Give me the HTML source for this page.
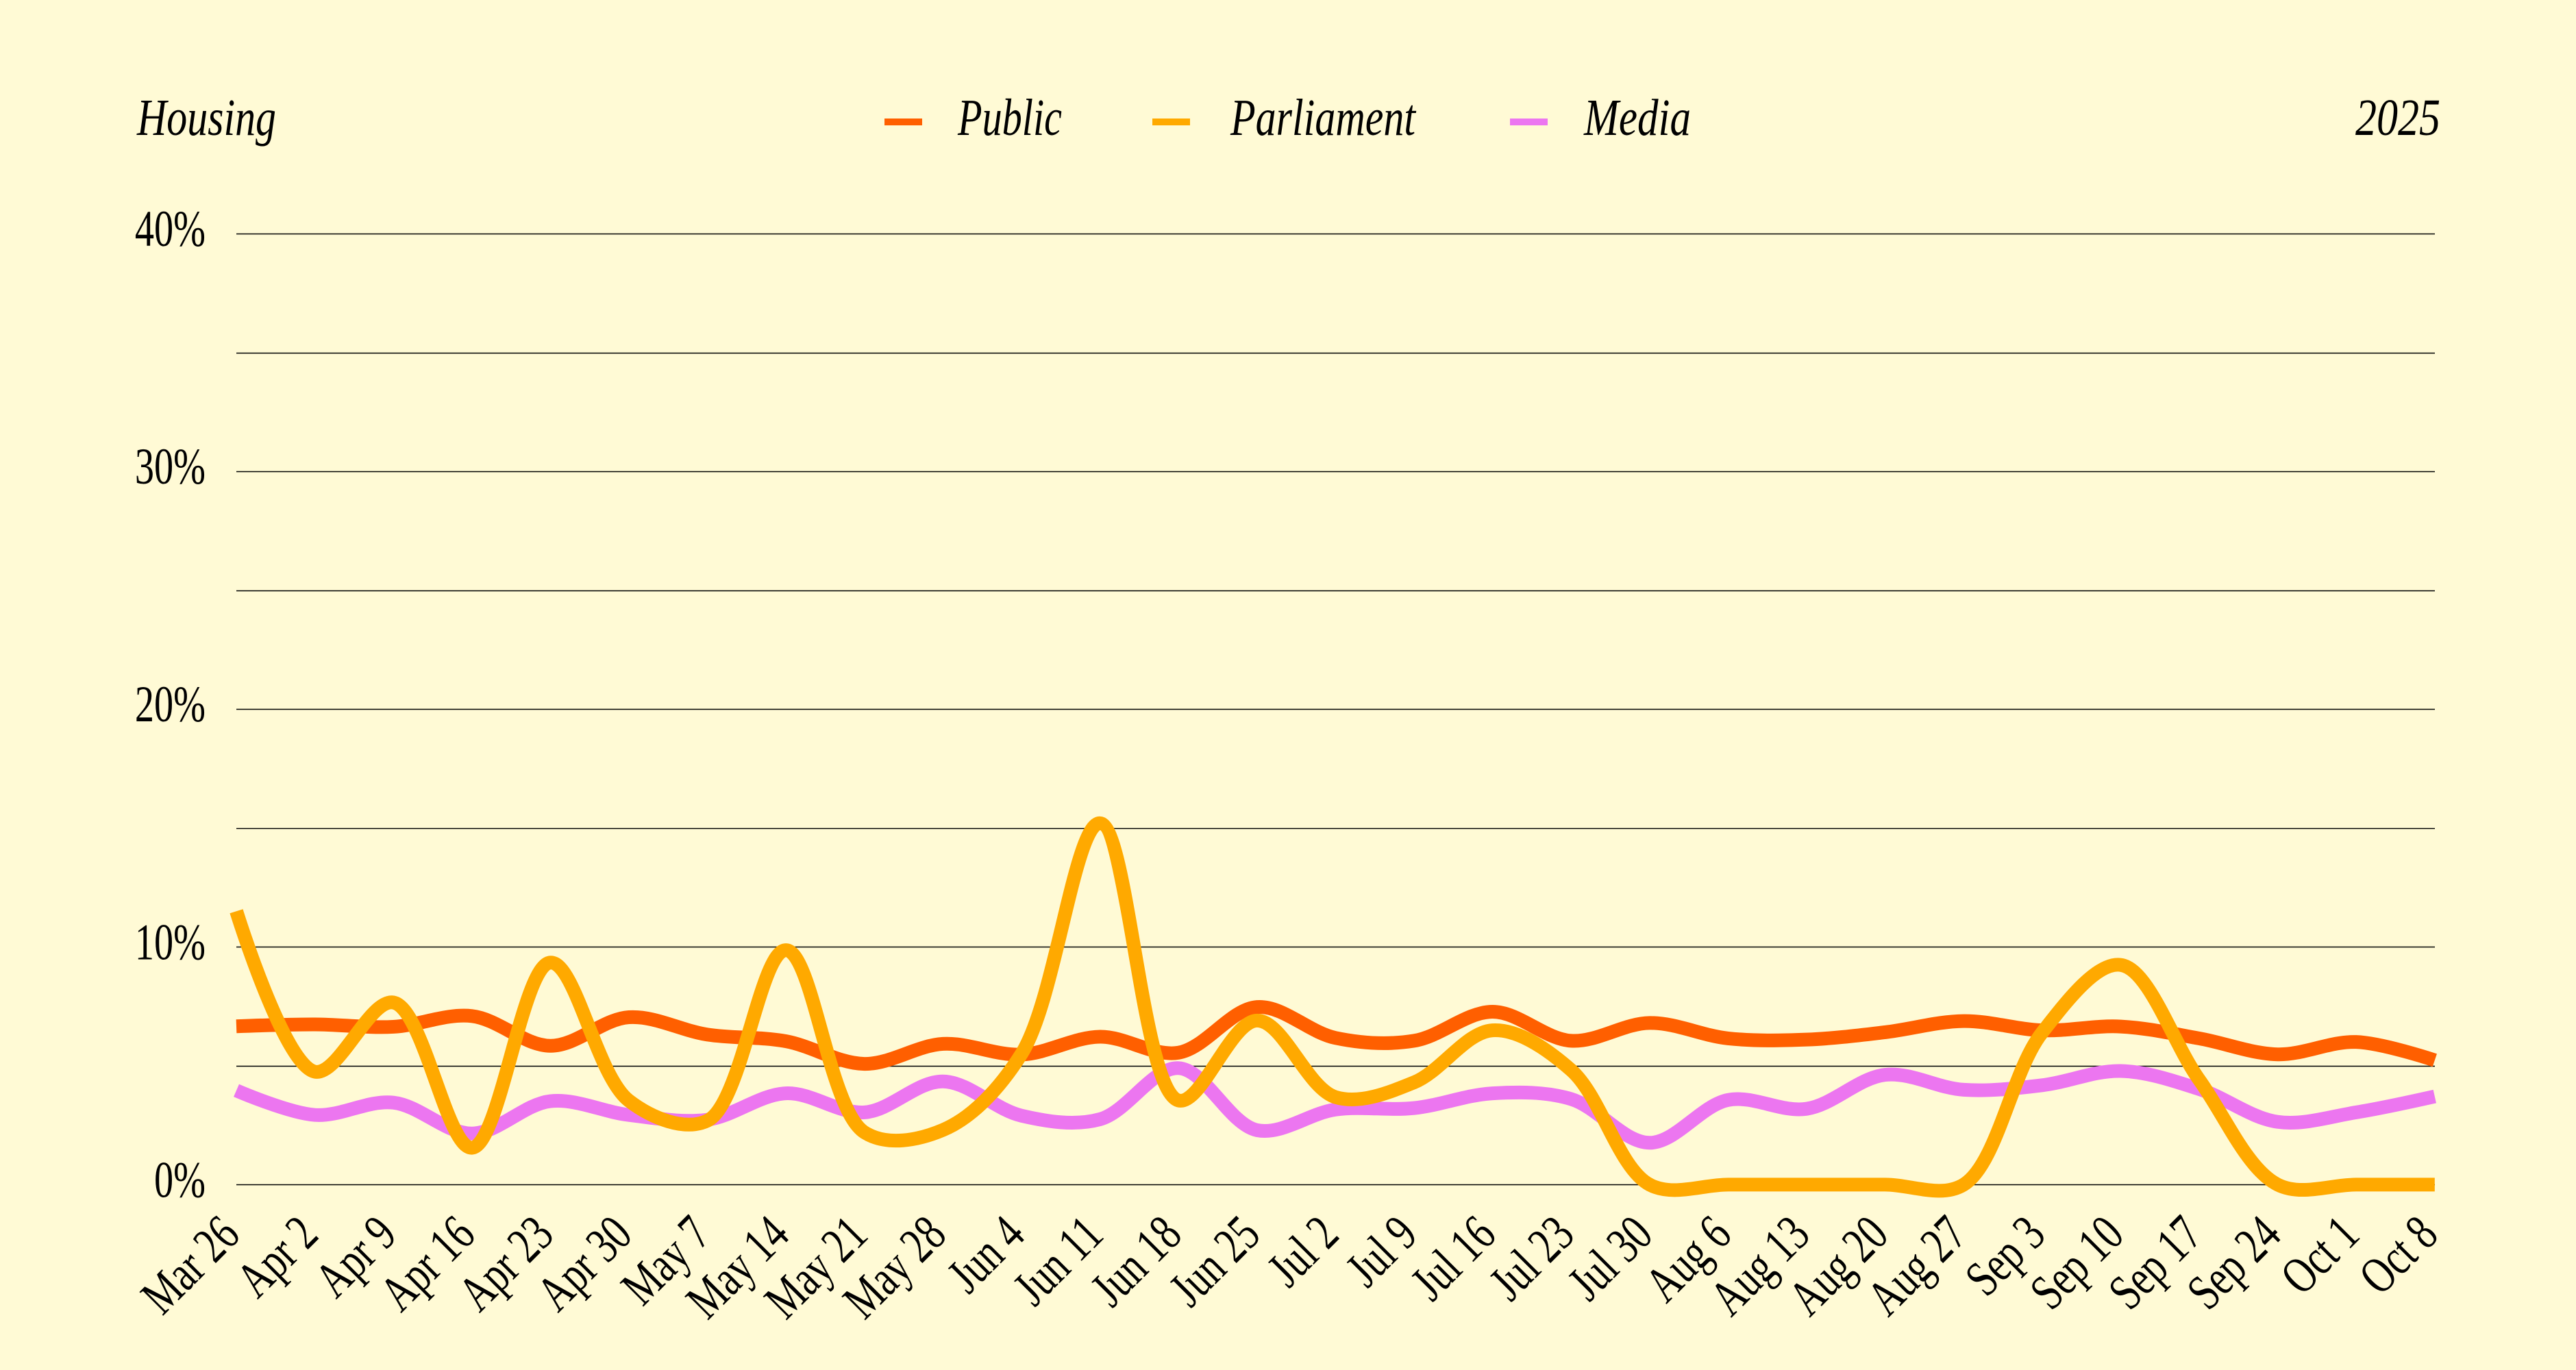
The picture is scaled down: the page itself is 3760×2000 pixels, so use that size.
<!DOCTYPE html>
<html>
<head>
<meta charset="utf-8">
<style>
  html,body{margin:0;padding:0;background:#FFFAD5;}
  svg{display:block;}
  text{font-family:"Liberation Serif",serif;fill:#000;}
  .it{font-style:italic;}
</style>
</head>
<body>
<svg id="chart" width="3760" height="2000" viewBox="0 0 3760 2000" xmlns="http://www.w3.org/2000/svg">
  <rect x="0" y="0" width="3760" height="2000" fill="#FFFAD5"/>
  <g id="grid" stroke="#000" stroke-width="1.4"></g>
  <g id="ylabels" font-size="75"></g>
  <g id="xlabels" font-size="75"></g>

  <!-- header -->
  <text class="it" x="200" y="197" font-size="76" textLength="203" lengthAdjust="spacingAndGlyphs">Housing</text>
  <rect x="1291" y="173" width="55" height="10" fill="#FF5F00"/>
  <text class="it" x="1398" y="197" font-size="76" textLength="152" lengthAdjust="spacingAndGlyphs">Public</text>
  <rect x="1682" y="173" width="55" height="10" fill="#FFA900"/>
  <text class="it" x="1796" y="197" font-size="76" textLength="270" lengthAdjust="spacingAndGlyphs">Parliament</text>
  <rect x="2204" y="173" width="55" height="10" fill="#EC76F0"/>
  <text class="it" x="2312" y="197" font-size="76" textLength="156" lengthAdjust="spacingAndGlyphs">Media</text>
  <text class="it" x="3438" y="197" font-size="76" textLength="124" lengthAdjust="spacingAndGlyphs">2025</text>

  <g id="series" fill="none" stroke-width="20" stroke-linecap="butt" stroke-linejoin="round"></g>
</svg>
<script>
(function(){
  var NS="http://www.w3.org/2000/svg";
  var X0=345, STEP=(3553.8-345)/28;
  function Y(v){return 1729.4-34.71*v;}
  var grid=document.getElementById('grid');
  for(var v=0;v<=40;v+=5){
    var l=document.createElementNS(NS,'line');
    var y=Math.round(Y(v))+0.5;
    l.setAttribute('x1',345);l.setAttribute('x2',3554);
    l.setAttribute('y1',y);l.setAttribute('y2',y);
    grid.appendChild(l);
  }
  var yl=document.getElementById('ylabels');
  [0,10,20,30,40].forEach(function(v){
    var t=document.createElementNS(NS,'text');
    t.setAttribute('text-anchor','end');
    t.setAttribute('transform','translate(300,'+(Y(v)+18)+') scale(0.75,1)');
    t.textContent=v+'%';
    yl.appendChild(t);
  });
  var dates=["Mar 26","Apr 2","Apr 9","Apr 16","Apr 23","Apr 30","May 7","May 14","May 21","May 28","Jun 4","Jun 11","Jun 18","Jun 25","Jul 2","Jul 9","Jul 16","Jul 23","Jul 30","Aug 6","Aug 13","Aug 20","Aug 27","Sep 3","Sep 10","Sep 17","Sep 24","Oct 1","Oct 8"];
  var xl=document.getElementById('xlabels');
  dates.forEach(function(d,i){
    var t=document.createElementNS(NS,'text');
    t.setAttribute('text-anchor','end');
    t.setAttribute('transform','translate('+(X0+i*STEP+8)+',1806) rotate(-45) scale(0.75,1)');
    t.textContent=d;
    xl.appendChild(t);
  });
  function catmull(pts){
    var d='M'+pts[0][0].toFixed(2)+','+pts[0][1].toFixed(2);
    for(var i=0;i<pts.length-1;i++){
      var p0=pts[i-1]||pts[i],p1=pts[i],p2=pts[i+1],p3=pts[i+2]||pts[i+1];
      var l01=Math.hypot(p1[0]-p0[0],p1[1]-p0[1]),
          l12=Math.hypot(p2[0]-p1[0],p2[1]-p1[1]),
          l23=Math.hypot(p3[0]-p2[0],p3[1]-p2[1]);
      var l01a=Math.sqrt(l01),l12a=Math.sqrt(l12),l23a=Math.sqrt(l23);
      var c1=[p1[0],p1[1]],c2=[p2[0],p2[1]];
      if(l01a>1e-12){
        var a=2*l01+3*l01a*l12a+l12,n=3*l01a*(l01a+l12a);
        c1=[(p1[0]*a-p0[0]*l12+p2[0]*l01)/n,(p1[1]*a-p0[1]*l12+p2[1]*l01)/n];
      }
      if(l23a>1e-12){
        var b=2*l23+3*l23a*l12a+l12,m=3*l23a*(l23a+l12a);
        c2=[(p2[0]*b+p1[0]*l23-p3[0]*l12)/m,(p2[1]*b+p1[1]*l23-p3[1]*l12)/m];
      }
      d+='C'+c1[0].toFixed(2)+','+c1[1].toFixed(2)+' '+c2[0].toFixed(2)+','+c2[1].toFixed(2)+' '+p2[0].toFixed(2)+','+p2[1].toFixed(2);
    }
    return d;
  }
  var media=[3.96,2.93,3.45,2.15,3.51,2.93,2.73,3.84,3.04,4.34,2.90,2.75,4.90,2.29,3.16,3.22,3.84,3.60,1.76,3.56,3.19,4.62,3.99,4.18,4.78,4.02,2.64,3.04,3.71];
  var pub=[6.66,6.74,6.64,7.09,5.84,7.04,6.31,6.03,5.08,5.92,5.47,6.22,5.55,7.47,6.17,6.05,7.27,6.05,6.80,6.15,6.10,6.41,6.88,6.49,6.65,6.15,5.48,6.0,5.23];
  var parl=[11.5,4.75,7.66,1.55,9.34,3.53,2.69,9.86,2.2,2.3,5.5,15.2,3.54,6.9,3.68,4.30,6.49,4.82,0,0,0,0,0,6.4,9.24,4.41,0,0,0];
  var g=document.getElementById('series');
  [[media,'#EC76F0'],[pub,'#FF5F00'],[parl,'#FFA900']].forEach(function(s){
    var pts=s[0].map(function(v,i){return [X0+i*STEP,Y(v)];});
    var p=document.createElementNS(NS,'path');
    p.setAttribute('d',catmull(pts));
    p.setAttribute('stroke',s[1]);
    g.appendChild(p);
  });
})();
</script>
</body>
</html>
